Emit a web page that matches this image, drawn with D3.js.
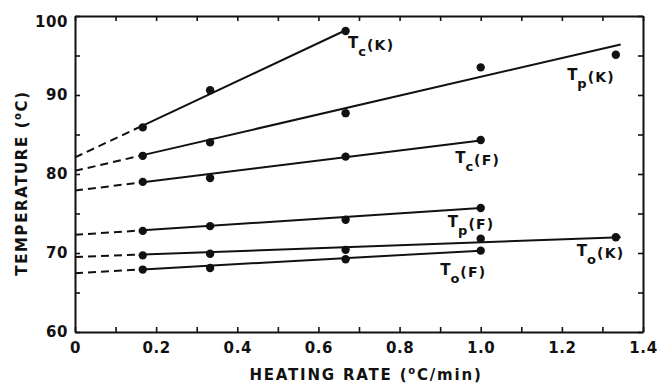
<!DOCTYPE html>
<html>
<head>
<meta charset="utf-8">
<script src="https://cdn.jsdelivr.net/npm/d3@7"></script>
<style>
  body { margin: 0; background: #fff; }
  svg { display: block; font-family: "DejaVu Sans", sans-serif; font-weight: bold; }
</style>
</head>
<body>
<div id="chart"></div>
<script>
// heating rates (°C/min) used in the experiment
const rates = [0.167, 0.333, 0.667, 1.0, 1.333];

const tcK = [85.9, 90.6, 98.1];
const tpK = [82.3, 84.0, 87.7, 93.5, 95.1];
const tcF = [79.0, 79.5, 82.2, 84.3];
const tpF = [72.8, 73.4, 74.2, 75.7];
const toK = [69.7, 69.9, 70.4, 71.8, 72.0];
const toF = [67.9, 68.1, 69.2, 70.3];

// fitted lines: value at rate 0, rate where the solid line stops, value there
const fitIntercepts = [82.1, 80.4, 77.9, 72.3, 69.5, 67.45];
const fitEndRates = [0.667, 1.345, 1.0, 1.0, 1.345, 1.0];
const fitEndValues = [98.2, 96.4, 84.25, 75.7, 72.0, 70.3];

// series label pieces
const labelSubs = ["c", "p", "c", "p", "o", "o"];
const labelSuffix = ["(K)", "(K)", "(F)", "(F)", "(K)", "(F)"];
// label anchors (rate, temperature) = left edge / baseline of the "T"
const labelRates = [0.673, 1.213, 0.937, 0.919, 1.237, 0.900];
const labelTemps = [95.95, 91.9, 81.4, 73.3, 69.6, 67.2];

const xTicks = [0, 0.2, 0.4, 0.6, 0.8, 1.0, 1.2, 1.4];
const yTicks = [60, 70, 80, 90, 100];

const allSeries = [tcK, tpK, tcF, tpF, toK, toF];

const width = 657, height = 383;
const svg = d3.select("#chart").append("svg")
	.attr("width", width)
	.attr("height", height);

const x = d3.scaleLinear().domain([0, 1.4]).range([75, 643]);
const y = d3.scaleLinear().domain([60, 100]).range([332, 16]);

const minorX = d3.range(0, 15).map(i => i / 10);
const minorY = d3.range(60, 101, 5);

// --- Achsen / Rahmen ---
function styleAxis(g) {
	g.attr("font-family", null).attr("font-size", null);
	g.select(".domain").attr("stroke", "#111").attr("stroke-width", 2);
	g.selectAll(".tick line").attr("stroke", "#111").attr("stroke-width", 1.6);
	g.selectAll(".tick text")
		.attr("fill", "#111")
		.style("font-size", "15px")
		.style("letter-spacing", "0.6px");
}

svg.append("g")
	.attr("transform", `translate(0,${y(60)})`)
	.call(d3.axisBottom(x).tickValues(minorX).tickSize(-5).tickSizeOuter(0).tickPadding(10)
		.tickFormat(d => xTicks.some(t => Math.abs(t - d) < 1e-6) ? (d === 0 ? "0" : d3.format(".1f")(d)) : ""))
	.call(styleAxis);

svg.append("g")
	.attr("transform", `translate(0,${y(100)})`)
	.call(d3.axisTop(x).tickValues(minorX).tickSize(-5).tickSizeOuter(0).tickFormat(""))
	.call(styleAxis);

const yAxisG = svg.append("g")
	.attr("transform", `translate(${x(0)},0)`)
	.call(d3.axisLeft(y).tickValues(minorY).tickSize(-5).tickSizeOuter(0).tickPadding(7)
		.tickFormat(d => yTicks.includes(d) ? d : ""))
	.call(styleAxis);
// oberste Beschriftung sitzt im Original etwas tiefer
yAxisG.selectAll(".tick text").filter(d => d === 100).attr("dy", "0.7em");

svg.append("g")
	.attr("transform", `translate(${x(1.4)},0)`)
	.call(d3.axisRight(y).tickValues(minorY).tickSize(-5).tickSizeOuter(0).tickFormat(""))
	.call(styleAxis);

// --- Ausgleichsgeraden + Messpunkte ---
const plot = svg.append("g");

allSeries.forEach((vals, i) => {
	const b = fitIntercepts[i];
	const m = (fitEndValues[i] - b) / fitEndRates[i];
	const x0 = rates[0];

	// gestrichelte Extrapolation bis 0
	plot.append("line")
		.attr("x1", x(0)).attr("y1", y(b))
		.attr("x2", x(x0)).attr("y2", y(b + m * x0))
		.attr("stroke", "#111")
		.attr("stroke-width", 2)
		.attr("stroke-dasharray", "8,5");

	// durchgezogene Gerade
	plot.append("line")
		.attr("x1", x(x0)).attr("y1", y(b + m * x0))
		.attr("x2", x(fitEndRates[i])).attr("y2", y(fitEndValues[i]))
		.attr("stroke", "#111")
		.attr("stroke-width", 2);

	plot.selectAll(null)
		.data(vals)
		.enter().append("circle")
		.attr("cx", (d, j) => x(rates[j]))
		.attr("cy", d => y(d))
		.attr("r", 4.2)
		.attr("fill", "#111");

	// Beschriftung T_x(K)
	const t = plot.append("text")
		.attr("x", x(labelRates[i]))
		.attr("y", y(labelTemps[i]))
		.attr("fill", "#111");
	t.append("tspan").style("font-size", "15px").text("T");
	t.append("tspan").style("font-size", "13px").attr("dy", 8).text(labelSubs[i]);
	t.append("tspan").style("font-size", "14px").attr("dy", -6).attr("dx", 1)
		.style("letter-spacing", "1.2px").text(labelSuffix[i]);
});

// --- Achsentitel ---
const xTitle = svg.append("text")
	.attr("x", 366)
	.attr("y", 380)
	.attr("text-anchor", "middle")
	.attr("fill", "#111")
	.style("font-size", "15px")
	.style("letter-spacing", "1.8px");
xTitle.append("tspan").text("HEATING RATE (");
xTitle.append("tspan").style("font-size", "10px").attr("dy", -6).text("o");
xTitle.append("tspan").attr("dy", 6).text("C/min)");

const yTitle = svg.append("text")
	.attr("transform", "translate(27,183) rotate(-90)")
	.attr("text-anchor", "middle")
	.attr("fill", "#111")
	.style("font-size", "15px")
	.style("letter-spacing", "1.6px");
yTitle.append("tspan").text("TEMPERATURE (");
yTitle.append("tspan").style("font-size", "10px").attr("dy", -6).text("o");
yTitle.append("tspan").attr("dy", 6).text("C)");
</script>
</body>
</html>
